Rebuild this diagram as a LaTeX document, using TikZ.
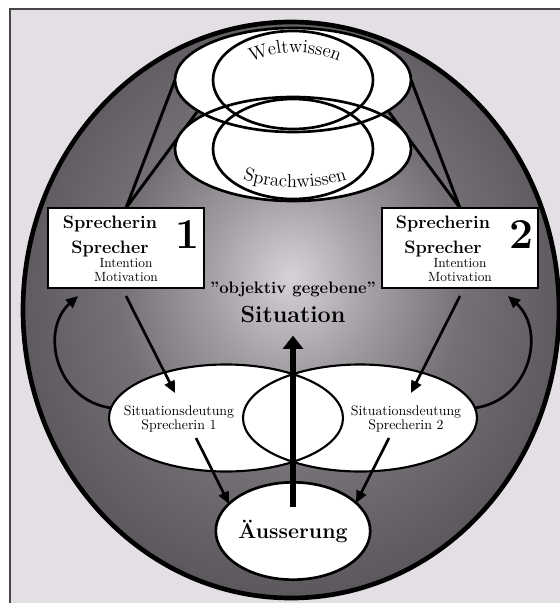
\documentclass[tikz,border=0pt]{standalone}
\usepackage{fontspec}
\usepackage{tikz}
\usetikzlibrary{arrows.meta, positioning, shapes.geometric, decorations.text}

\definecolor{paper}{RGB}{228,223,229}
\definecolor{framegray}{RGB}{70,70,70}
\definecolor{shA}{RGB}{214,210,216}
\definecolor{shB}{RGB}{160,156,162}
\definecolor{shC}{RGB}{116,112,118}
\definecolor{shD}{RGB}{92,88,94}
\definecolor{shE}{RGB}{68,64,70}
\definecolor{shF}{RGB}{42,38,44}
\definecolor{shG}{RGB}{18,16,18}

\pgfdeclareradialshading{rimshade}{\pgfpoint{0bp}{3bp}}{%
  color(0bp)=(shA); color(8bp)=(shB); color(16bp)=(shC);
  color(26bp)=(shD); color(37bp)=(shE); color(45bp)=(shF); color(50bp)=(shG)}

\pgfdeclarelayer{back}
\pgfdeclarelayer{links}
\pgfsetlayers{back,links,main}

\begin{document}
\begin{tikzpicture}[x=0.75pt, y=-0.75pt,
    every node/.style={inner sep=0pt, outer sep=0pt},
    rim/.style={draw=black, line width=3.5pt},
    ring/.style={draw=black, line width=2pt},
    thinring/.style={draw=black, line width=1.6pt},
    whitelens/.style={ellipse, fill=white, minimum width=177pt, minimum height=78pt},
    spkbox/.style={draw=black, line width=2.2pt, fill=white, minimum width=117pt, minimum height=60pt},
    sitlens/.style={ellipse, fill=white, minimum width=175.5pt, minimum height=80pt},
    spkname/.style={font=\bfseries\fontsize{13.5}{15}\selectfont, anchor=base},
    smalltext/.style={font=\fontsize{10}{12}\selectfont, anchor=base},
    spknum/.style={font=\bfseries\fontsize{32}{34}\selectfont, anchor=base},
    sittext/.style={font=\fontsize{10.4}{10.5}\selectfont, align=center},
    linkline/.style={line width=2.2pt},
    arrow/.style={-{Triangle[length=9pt, width=8pt]}, line width=2pt},
    bigarrow/.style={-{Triangle[length=10pt, width=15pt]}, line width=4.2pt}
]
\useasboundingbox (0,0) rectangle (560,603);

% paper and dark egg
\begin{pgfonlayer}{back}
\fill[white] (0,0) rectangle (560,603);
\fill[paper] (10,9) rectangle (560,603);
\draw[framegray, line width=1.1pt] (560,9) -- (10,9) -- (10,603);
\shade[shading=rimshade] (291,310) ellipse [x radius=268, y radius=288];
\draw[rim] (291,310) ellipse [x radius=268, y radius=288];
\end{pgfonlayer}

% knowledge lenses
\node[whitelens] (welt) at (293,80) {};
\node[whitelens] (sprach) at (293,149) {};
\draw[ring] (welt.center) ellipse [x radius=118, y radius=52];
\draw[ring] (sprach.center) ellipse [x radius=118, y radius=52];
\draw[ring] (welt.center) ellipse [x radius=80, y radius=49];
\draw[ring] (sprach.center) ellipse [x radius=80, y radius=50];
\path[decorate, decoration={text along path, text align=center,
    text={|\fontsize{14}{16}\selectfont|Weltwissen}}]
  (237,69) .. controls (271,47) and (319,47) .. (353,69);
\path[decorate, decoration={text along path, text align=center,
    text={|\fontsize{14}{16}\selectfont|Sprachwissen}}]
  (233,176) .. controls (272,191) and (318,191) .. (357,176);

% speakers
\node[spkbox] (box1) at (126,248) {};
\node[spkbox] (box2) at (460,248) {};
\node[spkname] (name1a) at (110,228) {Sprecherin};
\node[spkname] (name1b) at (110,253) {Sprecher};
\node[smalltext] (int1) at (126,267) {Intention};
\node[smalltext] (mot1) at (126,281) {Motivation};
\node[spknum] (num1) at (188,248) {1};
\node[spkname] (name2a) at (443,228) {Sprecherin};
\node[spkname] (name2b) at (443,253) {Sprecher};
\node[smalltext] (int2) at (460,267) {Intention};
\node[smalltext] (mot2) at (460,281) {Motivation};
\node[spknum] (num2) at (522,248) {2};

\node[font=\bfseries\fontsize{12.5}{14}\selectfont, anchor=base] (objtext) at (293,293) {"objektiv gegebene"};
\node[font=\bfseries\fontsize{17.5}{20}\selectfont, anchor=base] (situation) at (293,322) {Situation};

% interpretations
\node[sitlens] (sit1) at (226,418) {};
\node[sitlens] (sit2) at (360,418) {};
\draw[thinring] (sit1.center) ellipse [x radius=117, y radius=53.5];
\draw[thinring] (sit2.center) ellipse [x radius=117, y radius=53.5];
\node[sittext] (deut1) at (179,419) {Situationsdeutung\\Sprecherin 1};
\node[sittext] (deut2) at (406,419) {Situationsdeutung\\Sprecherin 2};

\node[ellipse, fill=white, draw=black, line width=2pt, minimum width=96pt, minimum height=73pt,
      font=\bfseries\fontsize{16}{18}\selectfont] (aeus) at (293,531) {Äusserung};

\coordinate (cross1) at (197,112);
\coordinate (cross2) at (389,112);
\coordinate (d1in) at (175,393);
\coordinate (d2in) at (411,393);
\coordinate (d1out) at (196,438);
\coordinate (d2out) at (389,438);
\coordinate (back1) at (78,296);
\coordinate (back2) at (508,296);

\draw[arrow] ([yshift=-6pt]box1.south) -- (d1in);
\draw[arrow] ([yshift=-6pt]box2.south) -- (d2in);
\draw[arrow] (d1out) -- (aeus.157);
\draw[arrow] (d2out) -- (aeus.24);
\draw[arrow] (sit1.175) .. controls (55,400) and (40,330) .. (back1);
\draw[arrow] (sit2.5) .. controls (531,400) and (546,330) .. (back2);
\draw[bigarrow] ([yshift=18pt]aeus.center) -- ([yshift=-10pt]situation.south);

\begin{pgfonlayer}{links}
\draw[linkline] (box1.north) -- (welt.west);
\draw[linkline] (box1.north) -- (cross1);
\draw[linkline] (box2.north) -- (welt.east);
\draw[linkline] (box2.north) -- (cross2);
\end{pgfonlayer}
\end{tikzpicture}
\end{document}
